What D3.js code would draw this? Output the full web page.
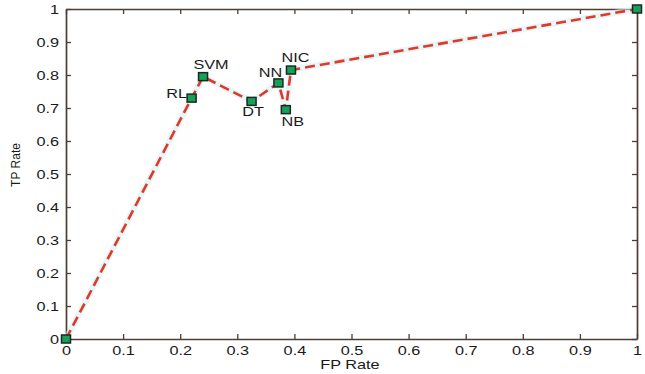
<!DOCTYPE html>
<html><head><meta charset="utf-8">
<script src="https://cdn.jsdelivr.net/npm/d3@7"></script>
<style>body{margin:0;background:#fff}svg{display:block}text{font-family:"Liberation Sans",Arial,sans-serif}</style>
</head><body><svg id="c" width="645" height="374"></svg>
<script>
const names = ["", "RL", "SVM", "DT", "NN", "NB", "NIC", ""];
const fpRate = [0, 0.22, 0.24, 0.325, 0.372, 0.385, 0.394, 1];
const tpRate = [0, 0.73, 0.795, 0.72, 0.776, 0.695, 0.815, 1];
const xTicks = [0,0.1,0.2,0.3,0.4,0.5,0.6,0.7,0.8,0.9,1];
const yTicks = [0,0.1,0.2,0.3,0.4,0.5,0.6,0.7,0.8,0.9,1];
const xTickLabels = ["0","0.1","0.2","0.3","0.4","0.5","0.6","0.7","0.8","0.9","1"];
const yTickLabels = ["0","0.1","0.2","0.3","0.4","0.5","0.6","0.7","0.8","0.9","1"];

const svg = d3.select("#c");
const L=66,R=637,T=9,B=339;
const SX = 1.25; // horizontal text stretch seen in the reference
const x = d3.scaleLinear().domain([0,1]).range([L,R]);
const y = d3.scaleLinear().domain([0,1]).range([B,T]);
const axisColor = "#4d3d33";
const g = svg.append("g");

const axB = g.append("g").attr("transform",`translate(0,${B})`).call(d3.axisBottom(x).tickValues(xTicks).tickSizeInner(-5).tickSizeOuter(0).tickPadding(7).tickFormat((d,i)=>xTickLabels[i]));
const axL = g.append("g").attr("transform",`translate(${L},0)`).call(d3.axisLeft(y).tickValues(yTicks).tickSizeInner(-5).tickSizeOuter(0).tickPadding(7).tickFormat((d,i)=>yTickLabels[i]));
const axT = g.append("g").attr("transform",`translate(0,${T})`).call(d3.axisTop(x).tickValues(xTicks).tickSizeInner(-5).tickSizeOuter(0).tickFormat(""));
const axR = g.append("g").attr("transform",`translate(${R},0)`).call(d3.axisRight(y).tickValues(yTicks).tickSizeInner(-5).tickSizeOuter(0).tickFormat(""));
[axB,axL,axT,axR].forEach(a=>{
  a.select(".domain").attr("stroke",axisColor).attr("stroke-width",1.7);
  a.selectAll(".tick line").attr("stroke",axisColor).attr("stroke-width",1.3);
  a.selectAll(".tick text").attr("fill","#1a1a1a").style("font-size","13px").attr("transform",`scale(${SX},1)`);
});
axL.selectAll(".tick text").attr("x",-7/SX);

svg.append("text").attr("transform",`translate(350,369) scale(${SX},1)`).attr("text-anchor","middle").style("font-size","13px").attr("fill","#1a1a1a").text("FP Rate");
svg.append("text").attr("transform","translate(20,165) rotate(-90)").attr("text-anchor","middle").style("font-size","12px").attr("fill","#1a1a1a").text("TP Rate");

const pts = fpRate.map((d,i)=>({x:d,y:tpRate[i],n:names[i]}));
const line = d3.line().x(d=>x(d.x)).y(d=>y(d.y));
svg.append("path").datum(pts).attr("d",line).attr("fill","none").attr("stroke","#d6f0f6").attr("stroke-width",6).attr("opacity",0.6);
svg.append("path").datum(pts).attr("d",line).attr("fill","none").attr("stroke","#df3a26").attr("stroke-width",2.6).attr("stroke-dasharray","10,5");

svg.selectAll("rect.m").data(pts).enter().append("rect").attr("class","m")
  .attr("x",d=>x(d.x)-4.5).attr("y",d=>y(d.y)-4).attr("width",9).attr("height",8)
  .attr("fill","#16a05a").attr("stroke","#1a2a20").attr("stroke-width",1.5);

const offs = {RL:[-15,-5],SVM:[8,-12.5],DT:[1.5,10],NN:[-8,-11],NIC:[4.5,-12.5],NB:[7,12]};
svg.selectAll("text.lab").data(pts.filter(d=>d.n)).enter().append("text").attr("class","lab")
  .attr("transform",d=>`translate(${x(d.x)+offs[d.n][0]},${y(d.y)+offs[d.n][1]}) scale(${SX},1)`).attr("dy","0.36em")
  .attr("text-anchor","middle").style("font-size","13px").attr("fill","#1a1a1a").text(d=>d.n);
</script></body></html>
